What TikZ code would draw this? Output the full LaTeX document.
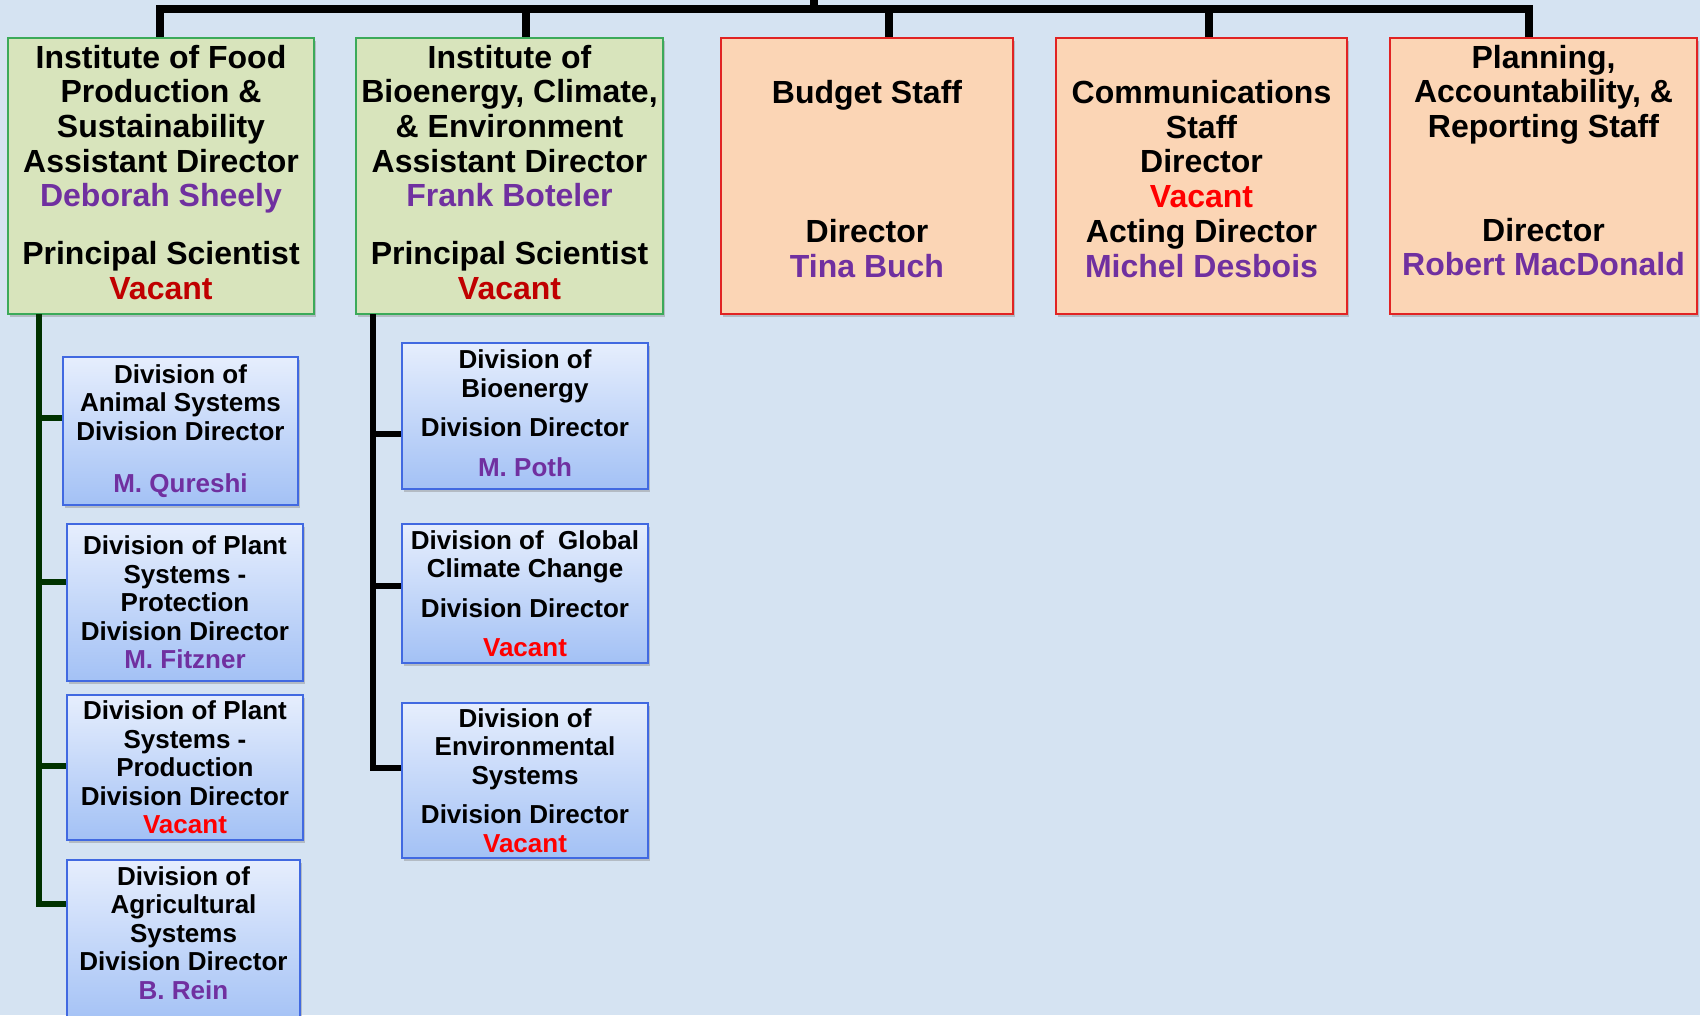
\documentclass[tikz,border=0pt]{standalone}
\usepackage{fontspec}
\setmainfont{Liberation Sans}
\usetikzlibrary{shadows}
\definecolor{bg}{RGB}{213,227,242}
\definecolor{gfill}{RGB}{216,228,188}
\definecolor{gborder}{RGB}{60,170,90}
\definecolor{ofill}{RGB}{251,213,181}
\definecolor{oborder}{RGB}{225,35,35}
\definecolor{dtop}{RGB}{230,238,253}
\definecolor{dbot}{RGB}{163,193,245}
\definecolor{dborder}{RGB}{65,105,225}
\definecolor{purp}{RGB}{112,48,160}
\definecolor{dred}{RGB}{192,0,0}
\definecolor{vred}{RGB}{255,0,0}
\definecolor{lgreen}{RGB}{0,50,0}
\newcommand\topfont{\fontsize{32}{34.7}\selectfont\bfseries}
\newcommand\divfont{\fontsize{26}{28.5}\selectfont\bfseries}
\begin{document}
\begin{tikzpicture}[x=1pt,y=-1pt,
  boxshadow/.style={drop shadow={opacity=0.4,shadow xshift=2pt,shadow yshift=-3pt}},
  topbox/.style={draw, line width=2.8pt, inner sep=0pt, align=center, font=\topfont, boxshadow},
  greenbox/.style={topbox, fill=gfill, draw=gborder, minimum height=276pt},
  orangebox/.style={topbox, fill=ofill, draw=oborder, minimum height=276pt},
  divbox/.style={draw=dborder, line width=2.8pt, top color=dtop, bottom color=dbot, inner sep=0pt, align=center, font=\divfont, boxshadow},
  topline/.style={line width=8pt, black},
  leftline/.style={line width=5.5pt, lgreen},
  rightline/.style={line width=6pt, black}]
\useasboundingbox (0,0) rectangle (1700,1015);
\fill[bg] (0,0) rectangle (1700,1015);

% top level boxes
\node[greenbox, minimum width=306pt] (ifp) at (161,176)
  {Institute of Food\\Production \&\\Sustainability\\Assistant Director\\\textcolor{purp}{Deborah Sheely}\\[23pt]Principal Scientist\\\textcolor{dred}{Vacant}\rule[-8pt]{0pt}{8pt}};
\node[greenbox, minimum width=307pt] (ibce) at (509.5,176)
  {Institute of\\Bioenergy, Climate,\\\& Environment\\Assistant Director\\\textcolor{purp}{Frank Boteler}\\[23pt]Principal Scientist\\\textcolor{dred}{Vacant}\rule[-8pt]{0pt}{8pt}};
\node[orangebox, minimum width=292pt] (bud) at (867,176)
  {\rule{0pt}{29pt}Budget Staff\\[105pt]Director\\\textcolor{purp}{Tina Buch}};
\node[orangebox, minimum width=291pt] (com) at (1201.5,176)
  {\rule{0pt}{29pt}Communications\\Staff\\Director\\\textcolor{vred}{Vacant}\\Acting Director\\\textcolor{purp}{Michel Desbois}};
\node[orangebox, minimum width=307pt] (pars) at (1543.5,176)
  {Planning,\\Accountability, \&\\Reporting Staff\\[69pt]Director\\\textcolor{purp}{Robert MacDonald}\rule[-31pt]{0pt}{31pt}};

% division boxes, left
\node[divbox, minimum width=235pt, minimum height=148pt] (ani) at (180.5,431)
  {Division of\\Animal Systems\\Division Director\\[23.5pt]\textcolor{purp}{M. Qureshi}};
\node[divbox, minimum width=236pt, minimum height=157pt] (ppro) at (185,602.5)
  {Division of Plant\\Systems -\\Protection\\Division Director\\\textcolor{purp}{M. Fitzner}};
\node[divbox, minimum width=236pt, minimum height=145pt] (pprod) at (185,767.5)
  {Division of Plant\\Systems -\\Production\\Division Director\\\textcolor{vred}{Vacant}};
\node[divbox, minimum width=233pt, minimum height=165pt] (agr) at (183.5,942.5)
  {Division of\\Agricultural\\Systems\\Division Director\\\textcolor{purp}{B. Rein}\rule[-19pt]{0pt}{19pt}};

% division boxes, right
\node[divbox, minimum width=246pt, minimum height=146pt] (bio) at (525,416)
  {Division of\\Bioenergy\\[11pt]Division Director\\[11pt]\textcolor{purp}{M. Poth}\rule[-6pt]{0pt}{6pt}};
\node[divbox, minimum width=246pt, minimum height=139pt] (glo) at (525,593.5)
  {Division of\ \ Global\\Climate Change\\[11pt]Division Director\\[11pt]\textcolor{vred}{Vacant}};
\node[divbox, minimum width=246pt, minimum height=155pt] (env) at (525,780.5)
  {Division of\\Environmental\\Systems\\[11pt]Division Director\\\textcolor{vred}{Vacant}};

% top connectors
\coordinate (root) at (814,0);
\coordinate (barL) at (160,9);
\coordinate (barR) at (1529,9);
\coordinate (d2) at (526,9);
\coordinate (d3) at (889,9);
\coordinate (d4) at (1209,9);
\draw[topline] (root) -- (root |- barL);
\draw[topline] (barL |- ifp.north) -- (barL) -- (barR) -- (barR |- pars.north);
\draw[topline] (d2) -- (d2 |- ibce.north);
\draw[topline] (d3) -- (d3 |- bud.north);
\draw[topline] (d4) -- (d4 |- com.north);

% left column
\coordinate (lctop) at (39,314);
\coordinate (lb1) at (39,418);
\coordinate (lb2) at (39,582);
\coordinate (lb3) at (39,766);
\coordinate (lcbot) at (39,904);
\draw[leftline] (lctop) -- (lcbot) -- (lcbot -| agr.west);
\draw[leftline] (lb1) -- (lb1 -| ani.west);
\draw[leftline] (lb2) -- (lb2 -| ppro.west);
\draw[leftline] (lb3) -- (lb3 -| pprod.west);

% right column
\coordinate (rctop) at (373,314);
\coordinate (rb1) at (373,434);
\coordinate (rb2) at (373,586);
\coordinate (rcbot) at (373,768);
\draw[rightline] (rctop) -- (rcbot) -- (rcbot -| env.west);
\draw[rightline] (rb1) -- (rb1 -| bio.west);
\draw[rightline] (rb2) -- (rb2 -| glo.west);
\end{tikzpicture}
\end{document}
